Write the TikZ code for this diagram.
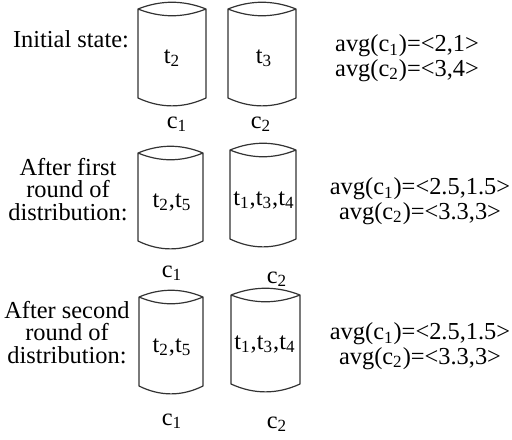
\documentclass[tikz,border=0pt]{standalone}
\usepackage{fontspec}
\setmainfont{Liberation Serif}
\usetikzlibrary{positioning}

% one container: left x, right x, top y, bottom y
\newcommand{\drumshape}[4]{%
  \draw[drum] (#1,#3) .. controls ({#1+(#2-#1)/3},{#3-9}) and ({#2-(#2-#1)/3},{#3-9}) .. (#2,#3)
    .. controls ({#2-(#2-#1)/3},{#3+9}) and ({#1+(#2-#1)/3},{#3+9}) .. (#1,#3)
    -- (#1,#4) .. controls ({#1+(#2-#1)/3},{#4+10.5}) and ({#2-(#2-#1)/3},{#4+10.5}) .. (#2,#4)
    -- (#2,#3);}

\begin{document}
\begin{tikzpicture}[x=0.5pt, y=-0.5pt,
    every node/.style={font=\fontsize{12.2}{11.25}\selectfont, inner sep=0pt},
    state/.style={align=center, anchor=base},
    avgtext/.style={align=center, anchor=base, font=\fontsize{12.2}{11}\selectfont},
    item/.style={anchor=base},
    drum/.style={draw=black!80, line width=0.6pt, line join=round},
]
    \useasboundingbox (0,0) rectangle (512,439);

    % initial state
    \drumshape{138}{206}{9}{98}
    \drumshape{228}{296}{9}{98}
    \node[state] (init) at (71,47) {Initial state:};
    \node[item] (ta1) at (172,63) {t\textsubscript{2}};
    \node[item] (ta2) at (264,63) {t\textsubscript{3}};
    \node[item] (ca1) at (177,128) {c\textsubscript{1}};
    \node[item] (ca2) at (261,128) {c\textsubscript{2}};
    \node[avgtext] (avga) at (407,76) {avg(c\textsubscript{1})=<2,1>\\avg(c\textsubscript{2})=<3,4>};

    % first round
    \drumshape{138}{203}{153}{241}
    \drumshape{230}{296}{150}{239}
    \node[state] (first) at (68,220) {After first\\round of\\distribution:};
    \node[item] (tb1) at (172,207) {t\textsubscript{2},t\textsubscript{5}};
    \node[item] (tb2) at (264,205) {t\textsubscript{1},t\textsubscript{3},t\textsubscript{4}};
    \node[item] (cb1) at (172,277) {c\textsubscript{1}};
    \node[item] (cb2) at (277,283) {c\textsubscript{2}};
    \node[avgtext] (avgb) at (420,219) {avg(c\textsubscript{1})=<2.5,1.5>\\avg(c\textsubscript{2})=<3.3,3>};

    % second round
    \drumshape{139}{203}{297}{386}
    \drumshape{231}{300}{295}{384}
    \node[state] (second) at (67,363) {After second\\round of\\distribution:};
    \node[item] (tc1) at (172,352) {t\textsubscript{2},t\textsubscript{5}};
    \node[item] (tc2) at (265,349) {t\textsubscript{1},t\textsubscript{3},t\textsubscript{4}};
    \node[item] (cc1) at (172,425) {c\textsubscript{1}};
    \node[item] (cc2) at (277,428) {c\textsubscript{2}};
    \node[avgtext] (avgc) at (420,364) {avg(c\textsubscript{1})=<2.5,1.5>\\avg(c\textsubscript{2})=<3.3,3>};
\end{tikzpicture}
\end{document}
